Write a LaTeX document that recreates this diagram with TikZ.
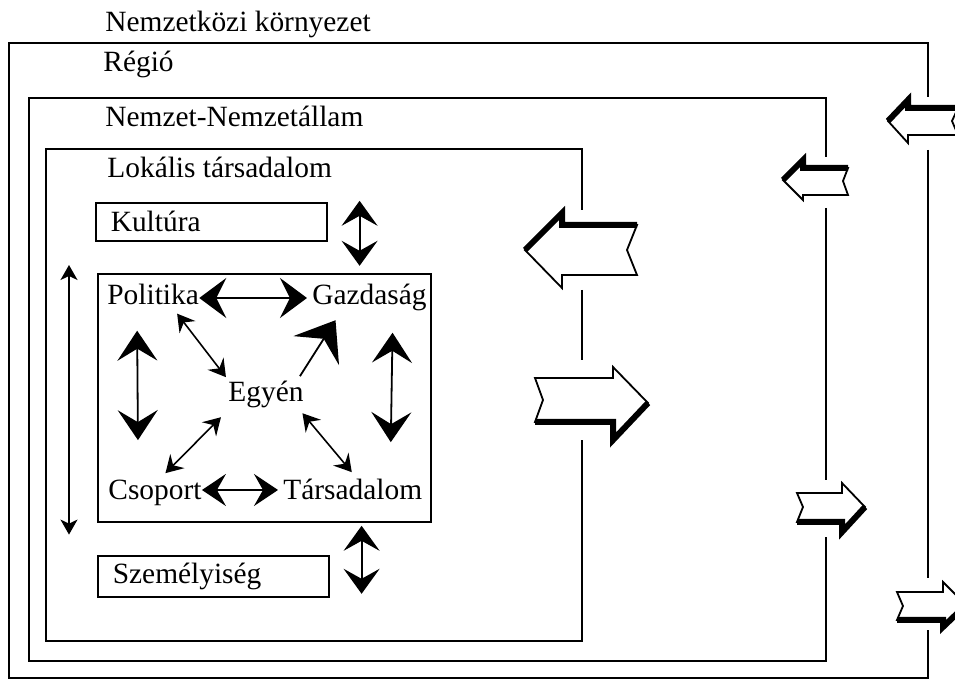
\documentclass[tikz,border=0pt]{standalone}
\usepackage{fontspec}
\setmainfont{Liberation Serif}
\usetikzlibrary{arrows.meta}
\usetikzlibrary{calc}

\tikzset{
  lbl/.style={anchor=base west,inner sep=0pt,font=\fontsize{14.7}{17}\selectfont},
  tbox/.style={draw,line width=0.8pt,anchor=north west,minimum width=115.5pt,
    text width=100.5pt,inner xsep=7.5pt,inner ysep=0pt,font=\fontsize{14.7}{17}\selectfont},
  frame/.style={line width=0.8pt},
  blk/.style={draw,fill=white,line width=0.9pt,line join=miter},
  rim/.style={line width=3pt,line join=miter,line cap=butt},
  horiztip/.tip={Stealth[length=13.5pt,width=20pt,inset=5pt]},
  lowtip/.tip={Stealth[length=12pt,width=16pt,inset=4.5pt]},
  verttip/.tip={Stealth[length=15pt,width=20pt,inset=6pt]},
  diagtip/.tip={Stealth[length=8.5pt,width=10pt,inset=3pt]},
  fattip/.tip={Stealth[length=18pt,width=27pt,inset=7pt]},
  sidetip/.tip={Stealth[length=12.5pt,width=18pt,inset=5pt]},
  thintip/.tip={Stealth[length=7.5pt,width=8.5pt,inset=2pt]}
}

\begin{document}
\begin{tikzpicture}[x=0.5pt,y=-0.5pt]
\useasboundingbox (0,0) rectangle (955,679);
\clip (0,0) rectangle (955,679);

% nested frames, right sides broken where the big arrows pass
\draw[frame] (928,97) -- (928,43) -- (9,43) -- (9,678) -- (928,678) -- (928,630);
\draw[frame] (928,150) -- (928,578);
\draw[frame] (826,157) -- (826,98) -- (29,98) -- (29,661) -- (826,661) -- (826,537);
\draw[frame] (826,208) -- (826,480);
\draw[frame] (582,210) -- (582,149) -- (46,149) -- (46,641) -- (582,641) -- (582,440);
\draw[frame] (582,290) -- (582,360);

% frame titles
\node[lbl] (intl) at (105,32) {Nemzetközi környezet};
\node[lbl] (reg) at (103,72) {Régió};
\node[lbl] (nemz) at (105,127) {Nemzet-Nemzetállam};
\node[lbl] (lok) at (107,178) {Lokális társadalom};

% boxes
\node[tbox,minimum height=19pt] (kul) at (95,202) {Kultúra};
\node[tbox,minimum height=20.5pt] (szem) at (97,555) {Személyiség};
\node[draw,line width=0.8pt,anchor=north west,inner sep=0pt,
  minimum width=166.5pt,minimum height=124pt] (core) at (97,273) {};

% inner words
\node[lbl] (pol) at (107,305) {Politika};
\node[lbl] (gaz) at (312,305) {Gazdaság};
\node[lbl] (egy) at (228,402) {Egyén};
\node[lbl] (cso) at (108,500) {Csoport};
\node[lbl] (tar) at (283,500) {Társadalom};

% links between the words
\draw[line width=0.9pt,{horiztip}-{horiztip},shorten >=2.5pt]
  ([yshift=3.5pt]pol.base east) -- ([yshift=3.5pt]gaz.base west);
\draw[line width=0.9pt,{lowtip}-{lowtip},shorten >=2.5pt]
  ([yshift=5pt]cso.base east) -- ([yshift=5pt]tar.base west);
\draw[line width=0.9pt,{verttip}-{verttip}]
  ($(pol.south)+(-16,25)$) -- ($(cso.north)+(-17,-40)$);
\draw[line width=0.9pt,{verttip}-{verttip}]
  ($(gaz.south)+(23,21)$) -- ($(tar.north)+(38,-37)$);
\draw[line width=0.8pt,{diagtip}-{diagtip}]
  ($(pol.south)+(24,8)$) -- ($(egy.north)+(-40,-4)$);
\draw[line width=0.9pt,-{fattip}]
  ($(egy.north)+(34,-5)$) -- ($(gaz.south)+(-34,8.5)$);
\draw[line width=0.8pt,{diagtip}-{diagtip}]
  ($(egy.south)+(-45,8.5)$) -- ($(cso.north)+(10.5,-7)$);
\draw[line width=0.8pt,{diagtip}-{diagtip}]
  ($(egy.south)+(36.5,4.5)$) -- ($(tar.north)+(-1,-7)$);

% side arrows
\draw[line width=0.9pt,{sidetip}-{sidetip}]
  ($(kul.east)+(32,-21)$) -- ($(kul.east)+(32,44)$);
\draw[line width=0.9pt,{sidetip}-{sidetip}]
  ($(szem.east)+(32,-50.5)$) -- ($(szem.east)+(32,17.5)$);
\draw[line width=0.8pt,{thintip}-{thintip}]
  ($(core.north west)+(-28,-8)$) -- ($(core.south west)+(-28,12)$);

% block arrows pointing in
\draw[blk] (525,250) -- (562,213) -- (562,225) -- (637,225) -- (627,250) -- (637,275) -- (562,275) -- (562,288) -- cycle;
\draw[rim] (525,250) -- (562,213) -- (562,225) -- (637,225);
\draw[blk] (783,180) -- (803,160) -- (803,168) -- (848,168) -- (843,181) -- (848,195) -- (803,195) -- (803,200) -- cycle;
\draw[rim] (783,180) -- (803,160) -- (803,168) -- (848,168);
\draw[blk] (888,121) -- (908,100) -- (908,108) -- (958,108) -- (952,121) -- (958,135) -- (908,135) -- (908,143) -- cycle;
\draw[rim] (888,121) -- (908,100) -- (908,108) -- (958,108);

% block arrows pointing out
\draw[blk] (535,378) -- (613,378) -- (613,367) -- (648,403) -- (613,440) -- (613,422) -- (535,422) -- (543,400) -- cycle;
\draw[rim] (535,422) -- (613,422) -- (613,440) -- (648,403);
\draw[blk] (797,493) -- (842,493) -- (842,483) -- (865,507) -- (842,532) -- (842,522) -- (797,522) -- (803,507) -- cycle;
\draw[rim] (797,522) -- (842,522) -- (842,532) -- (865,507);
\draw[blk] (897,592) -- (943,592) -- (943,582) -- (966,605) -- (943,627) -- (943,620) -- (897,620) -- (903,606) -- cycle;
\draw[rim] (897,620) -- (943,620) -- (943,627) -- (966,605);
\end{tikzpicture}
\end{document}
